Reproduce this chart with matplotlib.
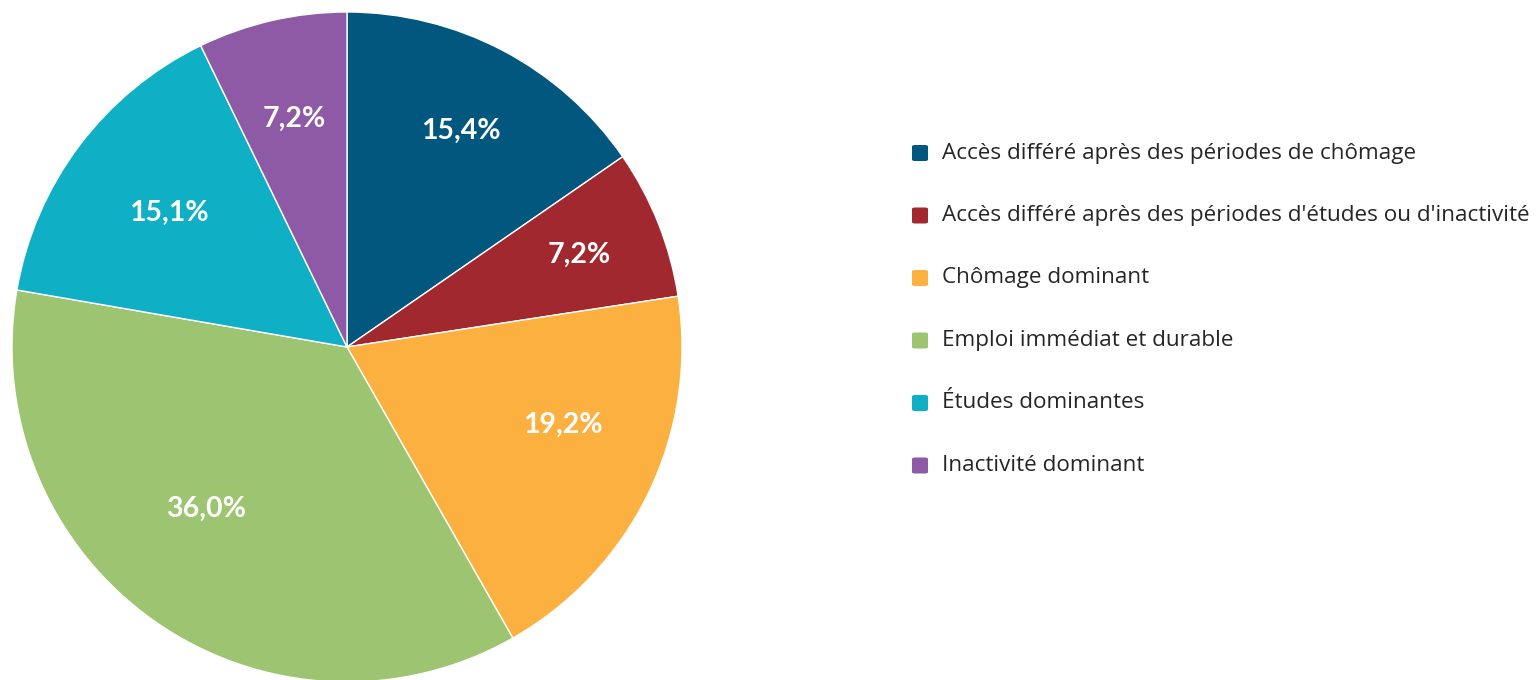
import numpy as np
import matplotlib.pyplot as plt
from matplotlib.patches import FancyBboxPatch

# data
categories = [
    "Accès différé après des périodes de chômage",
    "Accès différé après des périodes d'études ou d'inactivité",
    "Chômage dominant",
    "Emploi immédiat et durable",
    "Études dominantes",
    "Inactivité dominant",
]
shares = [15.4, 7.2, 19.2, 36.0, 15.1, 7.2]
colors = ["#02577F", "#A1282F", "#FBB040", "#9DC470", "#0FB0C5", "#8E5AA5"]

# label placement tweaks (radius fraction, angle nudge in degrees)
label_r = [0.73, 0.745, 0.685, 0.64, 0.665, 0.70]
label_dtheta = [0, 0, 6, -6, 0, 0]

W, H = 1536, 680
fig = plt.figure(figsize=(W / 100, H / 100), dpi=100)

# pie axes: centre (347, 347) px from top, radius 335 px
R = 335
ax = fig.add_axes([(347 - R) / W, (H - 347 - R) / H, 2 * R / W, 2 * R / H])
wedges, texts = ax.pie(
    shares, colors=colors, startangle=90, counterclock=False, radius=1,
    wedgeprops=dict(edgecolor="white", linewidth=1),
)
for w, v, r, dt in zip(wedges, shares, label_r, label_dtheta):
    th = np.radians((w.theta1 + w.theta2) / 2 + dt)
    ax.text(r * np.cos(th), r * np.sin(th), f"{v:.1f}".replace(".", ",") + "%",
            color="white", fontsize=20.5, fontweight="bold", family="Lato",
            ha="center", va="center")
ax.set_xlim(-1, 1)
ax.set_ylim(-1, 1)
ax.set_aspect("equal")
ax.axis("off")

# legend drawn by hand
x_box, y0, dy, box = 912, 153, 62.5, 16
for i, (lab, c) in enumerate(zip(categories, colors)):
    y = y0 + i * dy
    fig.add_artist(FancyBboxPatch(
        (x_box / W, (H - y - box / 2) / H), box / W, box / H,
        boxstyle="round,pad=0,rounding_size=0.002",
        transform=fig.transFigure, facecolor=c, edgecolor="none"))
    fig.text(942 / W, (H - y) / H, lab, fontsize=16.2, family="Open Sans",
             color="#262626", va="center", ha="left")

fig.savefig("out.png", dpi=100)
